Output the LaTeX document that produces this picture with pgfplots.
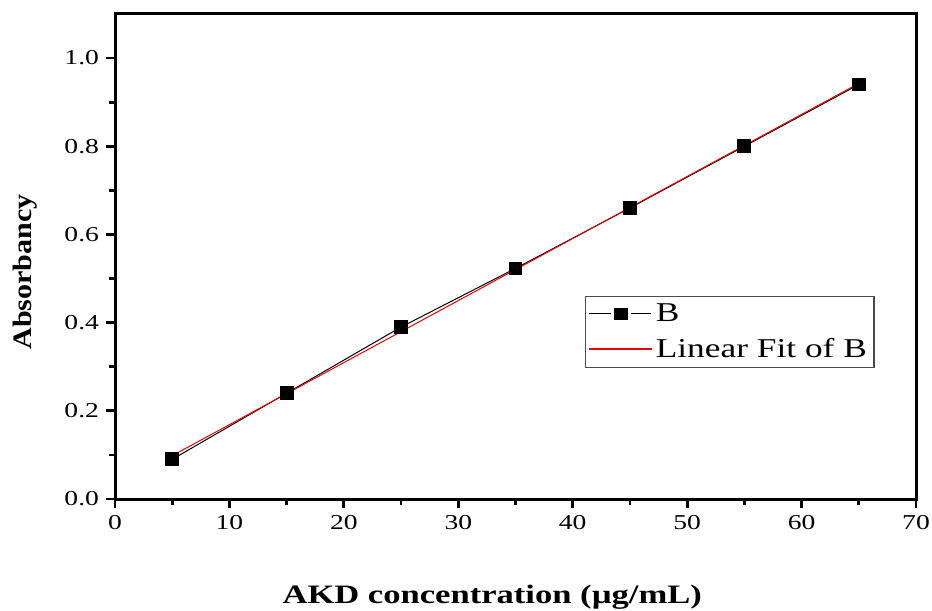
\documentclass[border=0pt]{standalone}
\usepackage{fontspec}
\setmainfont{Liberation Serif}[FakeStretch=1.3]
\newfontfamily\ylabfont{Liberation Serif}[FakeStretch=1.13]
\usepackage{pgfplots}
\pgfplotsset{compat=1.18}
\definecolor{fitred}{RGB}{235,0,0}
\begin{document}
\begin{tikzpicture}
\begin{axis}[
  name=ax,
  scale only axis,
  width=400.5pt, height=242.5pt,
  xmin=0, xmax=70, ymin=0, ymax=1.1,
  xtick={0,10,20,30,40,50,60,70},
  ytick={0,0.2,0.4,0.6,0.8,1.0},
  minor x tick num=1, minor y tick num=1,
  tick align=outside, xtick pos=bottom, ytick pos=left,
  major tick length=4.5pt, minor tick length=3pt,
  axis line style={line width=1.5pt},
  every tick/.style={line width=1.4pt, black},
  yticklabel style={/pgf/number format/fixed, /pgf/number format/fixed zerofill, /pgf/number format/precision=1},
  /pgf/number format/assume math mode=true,
  ticklabel style={font=\fontsize{10.6}{12}\selectfont},
  xlabel={\textbf{AKD concentration (µg/mL)}},
  xlabel style={at={(axis description cs:0.471,-0.2144)}, anchor=base, font=\fontsize{13.3}{16}\selectfont},
  ylabel={\textbf{Absorbancy}},
  ylabel style={at={(axis description cs:-0.1124,0.468)}, anchor=center, font=\ylabfont\fontsize{13.3}{16}\selectfont},
  legend style={at={(axis description cs:0.587,0.4186)}, anchor=north west, draw=black!70, line width=0.6pt,
    font=\fontsize{13.6}{16}\selectfont, inner xsep=1.5pt, inner ysep=1.5pt, row sep=3pt},
  legend cell align=left,
]
\addplot[black, line width=0.5pt, mark=square*, mark size=3.2pt, mark options={solid, fill=black},
  legend image code/.code={
    \draw[black, line width=0.5pt] (0pt,0pt) -- (10.8pt,0pt);
    \draw[black, line width=0.5pt] (20.8pt,0pt) -- (30.8pt,0pt);
    \fill[black] (12.5pt,-2.9pt) rectangle (19.2pt,2.9pt);
  }] coordinates {
  (5,0.090) (15,0.240) (25,0.390) (35,0.523) (45,0.660) (55,0.800) (65,0.940)
};
\addlegendentry{B}
\addplot[fitred, line width=0.5pt,
  legend image code/.code={
    \fill[fitred] (0pt,-0.25pt) rectangle (31pt,0.25pt);
  }] coordinates {
  (5,0.0983) (65,0.9426)
};
\addlegendentry{Linear Fit of B}
\end{axis}
\pgfresetboundingbox
\path ([shift={(-57.5pt,-55.5pt)}]ax.south west) rectangle ([shift={(8pt,7pt)}]ax.north east);
\end{tikzpicture}
\end{document}
